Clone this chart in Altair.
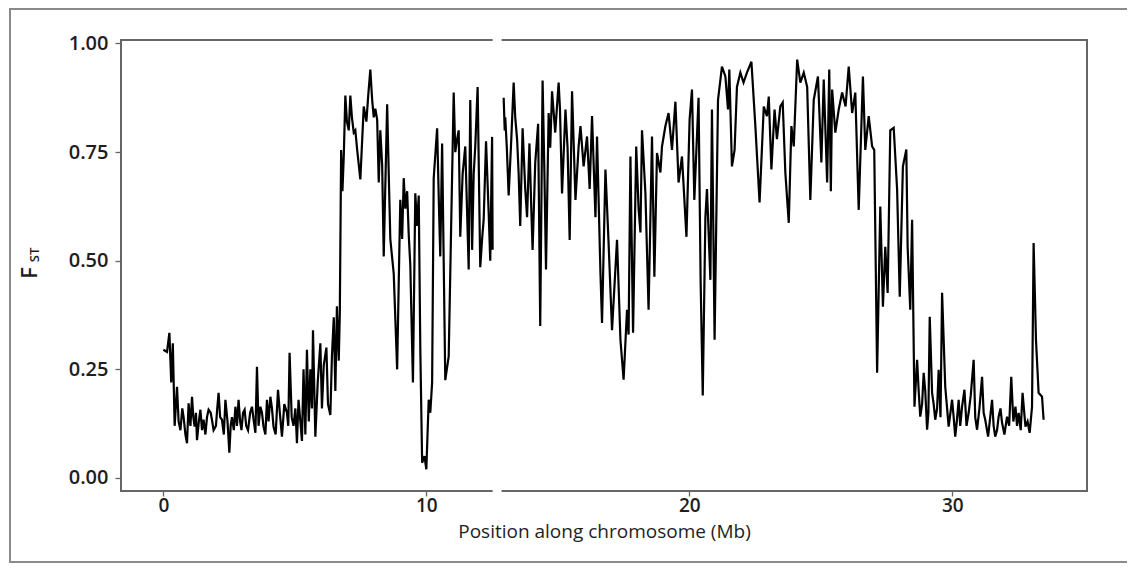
import altair as alt
import pandas as pd

# Segment before the gap (Mb, FST)
pos_a = [0.00, 0.14, 0.23, 0.30, 0.36, 0.43, 0.52, 0.58, 0.65, 0.72, 0.77, 0.84, 0.90, 0.96, 1.03, 1.09,
         1.14, 1.19, 1.24, 1.28, 1.35, 1.41, 1.47, 1.53, 1.60, 1.66, 1.72, 1.80, 1.86, 1.91, 2.00, 2.05,
         2.10, 2.16, 2.23, 2.30, 2.36, 2.44, 2.51, 2.56, 2.61, 2.68, 2.74, 2.80, 2.86, 2.92, 2.97, 3.03,
         3.09, 3.15, 3.22, 3.30, 3.37, 3.44, 3.50, 3.56, 3.62, 3.69, 3.75, 3.81, 3.88, 3.94, 4.00, 4.07,
         4.13, 4.19, 4.27, 4.36, 4.43, 4.51, 4.60, 4.70, 4.75, 4.80, 4.88, 4.95, 5.02, 5.08, 5.14, 5.21,
         5.27, 5.33, 5.40, 5.46, 5.53, 5.59, 5.65, 5.69, 5.78, 5.87, 5.97, 6.03, 6.10, 6.20, 6.26, 6.35,
         6.41, 6.48, 6.54, 6.60, 6.67, 6.71, 6.76, 6.81, 6.86, 6.92, 6.98, 7.05, 7.11, 7.17, 7.24, 7.30,
         7.37, 7.49, 7.62, 7.72, 7.79, 7.87, 7.94, 8.00, 8.06, 8.13, 8.19, 8.25, 8.32, 8.38, 8.51, 8.57,
         8.63, 8.76, 8.89, 8.95, 9.01, 9.08, 9.14, 9.20, 9.27, 9.33, 9.39, 9.49, 9.58, 9.65, 9.71, 9.77,
         9.84, 9.93, 10.00, 10.09, 10.15, 10.22, 10.28, 10.41, 10.49, 10.53, 10.60, 10.72, 10.85, 11.04,
         11.10, 11.17, 11.23, 11.29, 11.38, 11.48, 11.61, 11.67, 11.74, 11.80, 11.86, 11.95, 12.05, 12.12,
         12.18, 12.27, 12.37, 12.43, 12.50, 12.52]
fst_a = [0.295, 0.29, 0.334, 0.22, 0.31, 0.12, 0.21, 0.13, 0.11, 0.16, 0.14, 0.10, 0.08, 0.172, 0.12, 0.187,
         0.14, 0.118, 0.15, 0.087, 0.13, 0.157, 0.11, 0.134, 0.10, 0.14, 0.157, 0.15, 0.13, 0.11, 0.12, 0.16,
         0.196, 0.14, 0.134, 0.10, 0.18, 0.13, 0.058, 0.12, 0.14, 0.11, 0.164, 0.12, 0.18, 0.13, 0.11, 0.15,
         0.157, 0.12, 0.11, 0.15, 0.164, 0.13, 0.104, 0.256, 0.12, 0.164, 0.15, 0.118, 0.10, 0.18, 0.13, 0.187,
         0.16, 0.118, 0.10, 0.203, 0.15, 0.095, 0.17, 0.15, 0.12, 0.288, 0.14, 0.12, 0.16, 0.08, 0.18, 0.13,
         0.085, 0.25, 0.10, 0.295, 0.13, 0.25, 0.16, 0.34, 0.095, 0.22, 0.31, 0.16, 0.26, 0.30, 0.17, 0.145,
         0.28, 0.37, 0.20, 0.395, 0.27, 0.38, 0.755, 0.66, 0.74, 0.88, 0.82, 0.80, 0.88, 0.83, 0.795, 0.80,
         0.755, 0.687, 0.855, 0.82, 0.88, 0.94, 0.87, 0.83, 0.85, 0.825, 0.68, 0.80, 0.72, 0.51, 0.86, 0.70,
         0.55, 0.47, 0.25, 0.45, 0.64, 0.55, 0.69, 0.62, 0.66, 0.56, 0.49, 0.22, 0.655, 0.58, 0.65, 0.30,
         0.035, 0.05, 0.02, 0.18, 0.15, 0.22, 0.69, 0.805, 0.60, 0.51, 0.77, 0.225, 0.28, 0.887,
         0.75, 0.78, 0.80, 0.555, 0.70, 0.763, 0.48, 0.87, 0.525, 0.70, 0.763, 0.90, 0.485, 0.55,
         0.595, 0.775, 0.61, 0.50, 0.785, 0.525]

# Segment after the gap
pos_b = [12.94, 12.98, 13.00, 13.06, 13.13, 13.23, 13.32, 13.38, 13.45, 13.51, 13.57, 13.66, 13.76, 13.83,
         13.92, 13.99, 14.04, 14.14, 14.25, 14.33, 14.42, 14.49, 14.55, 14.65, 14.71, 14.78, 14.90, 15.03,
         15.08, 15.16, 15.29, 15.37, 15.45, 15.54, 15.67, 15.79, 15.86, 15.98, 16.11, 16.21, 16.30, 16.43,
         16.49, 16.62, 16.68, 16.81, 16.93, 17.06, 17.25, 17.38, 17.50, 17.63, 17.69, 17.76, 17.86, 17.98,
         18.07, 18.14, 18.20, 18.33, 18.45, 18.58, 18.67, 18.77, 18.90, 18.96, 19.09, 19.21, 19.34, 19.47,
         19.59, 19.72, 19.89, 20.01, 20.10, 20.19, 20.35, 20.43, 20.51, 20.61, 20.67, 20.80, 20.86, 20.96,
         21.09, 21.24, 21.37, 21.47, 21.52, 21.62, 21.72, 21.81, 21.94, 22.06, 22.19, 22.36, 22.51, 22.67,
         22.83, 22.95, 23.02, 23.12, 23.24, 23.33, 23.46, 23.55, 23.65, 23.78, 23.88, 23.97, 24.10, 24.22,
         24.35, 24.48, 24.60, 24.73, 24.89, 25.02, 25.11, 25.24, 25.32, 25.38, 25.43, 25.55, 25.68, 25.81,
         25.94, 26.06, 26.19, 26.31, 26.44, 26.60, 26.69, 26.82, 26.95, 27.03, 27.14, 27.26, 27.36, 27.45,
         27.54, 27.64, 27.77, 27.90, 28.00, 28.12, 28.25, 28.30, 28.40, 28.47, 28.56, 28.66, 28.72, 28.78,
         28.85, 28.91, 28.97, 29.04, 29.09, 29.14, 29.23, 29.29, 29.35, 29.42, 29.48, 29.55, 29.61, 29.73,
         29.86, 29.99, 30.05, 30.11, 30.17, 30.24, 30.30, 30.37, 30.46, 30.54, 30.62, 30.70, 30.81, 30.87,
         30.94, 31.03, 31.13, 31.19, 31.25, 31.36, 31.44, 31.51, 31.57, 31.63, 31.70, 31.76, 31.83, 31.89,
         31.98, 32.08, 32.16, 32.24, 32.32, 32.40, 32.46, 32.52, 32.60, 32.67, 32.72, 32.78, 32.86, 32.94,
         33.03, 33.09, 33.18, 33.28, 33.41, 33.47]
fst_b = [0.875, 0.80, 0.83, 0.76, 0.65, 0.78, 0.91, 0.83, 0.78, 0.70, 0.58, 0.805, 0.665, 0.60,
         0.77, 0.62, 0.525, 0.725, 0.815, 0.35, 0.915, 0.70, 0.48, 0.84, 0.76, 0.89, 0.795, 0.91,
         0.85, 0.655, 0.848, 0.76, 0.548, 0.89, 0.64, 0.763, 0.81, 0.717, 0.786, 0.665, 0.833, 0.60,
         0.786, 0.472, 0.357, 0.71, 0.54, 0.34, 0.548, 0.318, 0.226, 0.387, 0.33, 0.74, 0.334, 0.763,
         0.62, 0.565, 0.80, 0.655, 0.387, 0.786, 0.463, 0.748, 0.703, 0.763, 0.81, 0.84, 0.755, 0.866,
         0.68, 0.74, 0.555, 0.825, 0.894, 0.64, 0.875, 0.45, 0.19, 0.60, 0.665, 0.456, 0.848, 0.318,
         0.87, 0.947, 0.924, 0.848, 0.94, 0.717, 0.755, 0.90, 0.933, 0.91, 0.933, 0.958, 0.81, 0.634,
         0.855, 0.833, 0.878, 0.71, 0.848, 0.78, 0.855, 0.864, 0.703, 0.587, 0.81, 0.763, 0.963, 0.91,
         0.933, 0.90, 0.64, 0.87, 0.924, 0.726, 0.917, 0.68, 0.94, 0.66, 0.894, 0.795, 0.848, 0.887,
         0.855, 0.947, 0.84, 0.887, 0.617, 0.924, 0.755, 0.833, 0.763, 0.755, 0.242, 0.625, 0.394, 0.532,
         0.426, 0.80, 0.806, 0.664, 0.417, 0.717, 0.756, 0.532, 0.387, 0.594, 0.164, 0.272, 0.20, 0.141,
         0.17, 0.242, 0.20, 0.111, 0.15, 0.371, 0.196, 0.17, 0.134, 0.16, 0.249, 0.14, 0.426, 0.21,
         0.118, 0.18, 0.14, 0.095, 0.13, 0.18, 0.12, 0.164, 0.203, 0.12, 0.15, 0.19, 0.272, 0.14,
         0.111, 0.16, 0.233, 0.15, 0.134, 0.095, 0.14, 0.18, 0.12, 0.095, 0.11, 0.141, 0.16, 0.127,
         0.10, 0.141, 0.12, 0.233, 0.13, 0.164, 0.12, 0.15, 0.11, 0.196, 0.16, 0.118, 0.13, 0.104,
         0.164, 0.541, 0.318, 0.196, 0.187, 0.134]

x_ticks = [0, 10, 20, 30]
y_ticks = [0.0, 0.25, 0.5, 0.75, 1.0]
gap_start = [12.52]
gap_end = [12.86]

df = pd.concat([
    pd.DataFrame({"pos": pos_a, "fst": fst_a, "seg": "a"}),
    pd.DataFrame({"pos": pos_b, "fst": fst_b, "seg": "b"}),
], ignore_index=True)

W, H = 966, 451
FONT = "Open Sans"

xscale = alt.Scale(domain=[-1.61, 35.12], nice=False, zero=False)
yscale = alt.Scale(domain=[-0.03, 1.008], nice=False, zero=False)

line = alt.Chart(df).mark_line(color="black", strokeWidth=2.2, strokeJoin="miter").encode(
    x=alt.X("pos:Q", scale=xscale,
            axis=alt.Axis(values=x_ticks, format="d", title="Position along chromosome (Mb)",
                          labelPadding=0, labelFontSize=19, titlePadding=7, tickSize=5)),
    y=alt.Y("fst:Q", scale=yscale,
            axis=alt.Axis(values=y_ticks, format=".2f", title=None, labelPadding=7)),
    detail="seg:N",
)

gap_df = pd.DataFrame({"s": gap_start, "e": gap_end})
gap_top = alt.Chart(gap_df).mark_rect(color="white").encode(
    x=alt.X("s:Q", scale=xscale), x2="e:Q", y=alt.value(-3), y2=alt.value(3))
gap_bot = alt.Chart(gap_df).mark_rect(color="white").encode(
    x=alt.X("s:Q", scale=xscale), x2="e:Q", y=alt.value(H - 3), y2=alt.value(H + 3))

f_text = alt.Chart(pd.DataFrame({"t": ["F"]})).mark_text(
    angle=270, font=FONT, fontSize=22, fontWeight=600, color="#1e1e1e",
    align="center", baseline="alphabetic").encode(
    text="t:N", x=alt.value(-84), y=alt.value(233))
st_text = alt.Chart(pd.DataFrame({"t": ["ST"]})).mark_text(
    angle=270, font=FONT, fontSize=13, fontWeight=600, color="#1e1e1e",
    align="center", baseline="alphabetic").encode(
    text="t:N", x=alt.value(-82), y=alt.value(215))

outer = alt.Chart(pd.DataFrame({"t": [0]})).mark_rect(
    fillOpacity=0, stroke="#8a8a8a", strokeWidth=2).encode(
    x=alt.value(-111), x2=alt.value(1012), y=alt.value(-31), y2=alt.value(522))

chart = alt.layer(line, gap_top, gap_bot, f_text, st_text, outer).properties(
    width=W, height=H,
    padding={"left": 113, "top": 32, "right": 40, "bottom": 73},
    autosize=alt.AutoSizeParams(type="none"),
).configure_view(
    stroke="#666", strokeWidth=2
).configure_axis(
    grid=False, domain=False, tickColor="#666", tickSize=6, tickWidth=1.3,
    labelFont=FONT, labelFontSize=20, labelFontWeight=600, labelColor="#1e1e1e",
    titleFont=FONT, titleFontSize=19, titleFontWeight="normal", titleColor="#1e1e1e",
)

chart.save("out.html", embed_options={"renderer": "svg", "actions": False})
